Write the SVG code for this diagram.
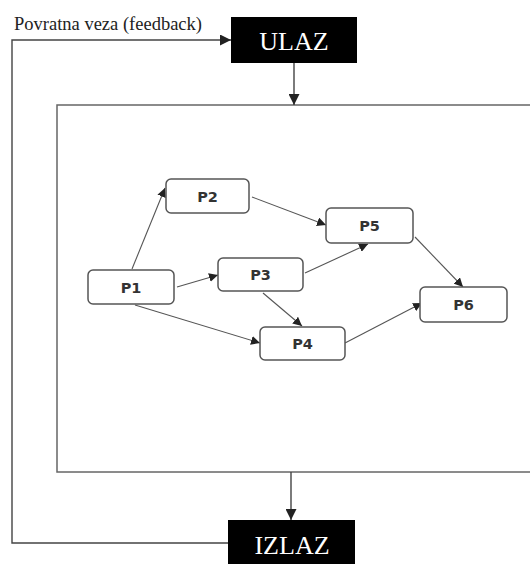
<svg xmlns="http://www.w3.org/2000/svg" width="530" height="564" viewBox="0 0 530 564">
<style>
.term{fill:#000}
.tt{font-family:"Liberation Serif","DejaVu Serif",serif;font-size:26px;fill:#fff;text-anchor:middle}
.node{fill:#fff;stroke:#555;stroke-width:1.5}
.nt{font-family:"DejaVu Sans",Verdana,sans-serif;font-size:14.5px;font-weight:bold;fill:#333;text-anchor:middle}
.ln{stroke:#444;stroke-width:1.4;fill:none}
.el{stroke:#555;stroke-width:1.1;fill:none}
</style>
<defs>
<marker id="ah" viewBox="0 0 10 10" refX="10" refY="5" markerWidth="9" markerHeight="9" markerUnits="userSpaceOnUse" orient="auto"><path d="M0,0 L10,5 L0,10 z" fill="#222"/></marker>
<marker id="ah2" viewBox="0 0 10 10" refX="10" refY="5" markerWidth="11" markerHeight="11" markerUnits="userSpaceOnUse" orient="auto"><path d="M0,0 L10,5 L0,10 z" fill="#222"/></marker>
</defs>
<rect x="57" y="105" width="480" height="367" fill="#fff" stroke="#666" stroke-width="1.5"/>
<text x="14" y="30" font-family="Liberation Serif, DejaVu Serif, serif" font-size="18.5" fill="#222">Povratna veza (feedback)</text>
<g id="connectors">
<path class="ln" d="M228,543 H12 V40 H231" marker-end="url(#ah2)"/>
<path class="ln" d="M294,63 V105" marker-end="url(#ah2)"/>
<path class="ln" d="M291,472 V520" marker-end="url(#ah2)"/>
<path class="el" d="M132,269 L165,188" marker-end="url(#ah)"/>
<path class="el" d="M177,287 L218,275" marker-end="url(#ah)"/>
<path class="el" d="M135,305 L260,343" marker-end="url(#ah)"/>
<path class="el" d="M252,197 L326,225" marker-end="url(#ah)"/>
<path class="el" d="M305,273 L368,244" marker-end="url(#ah)"/>
<path class="el" d="M263,293 L302,326" marker-end="url(#ah)"/>
<path class="el" d="M415,237 L463,287" marker-end="url(#ah)"/>
<path class="el" d="M345,343 L422,303" marker-end="url(#ah)"/>
</g>
<g id="ULAZ"><rect class="term" x="231" y="17" width="126" height="46"/><text class="tt" x="294" y="50">ULAZ</text></g>
<g id="IZLAZ"><rect class="term" x="228" y="520" width="127" height="50"/><text class="tt" x="292" y="554">IZLAZ</text></g>
<g id="P1"><rect class="node" x="88" y="270" width="86" height="34" rx="5"/><text class="nt" x="131" y="292.5">P1</text></g>
<g id="P2"><rect class="node" x="166" y="179" width="83" height="34" rx="5"/><text class="nt" x="207.5" y="201.5">P2</text></g>
<g id="P3"><rect class="node" x="218" y="258" width="85" height="33" rx="5"/><text class="nt" x="260.5" y="280">P3</text></g>
<g id="P4"><rect class="node" x="260" y="327" width="85" height="33" rx="5"/><text class="nt" x="302.5" y="349">P4</text></g>
<g id="P5"><rect class="node" x="326" y="208" width="87" height="35" rx="5"/><text class="nt" x="369.5" y="231">P5</text></g>
<g id="P6"><rect class="node" x="420" y="287" width="87" height="35" rx="5"/><text class="nt" x="463.5" y="310">P6</text></g>
</svg>
